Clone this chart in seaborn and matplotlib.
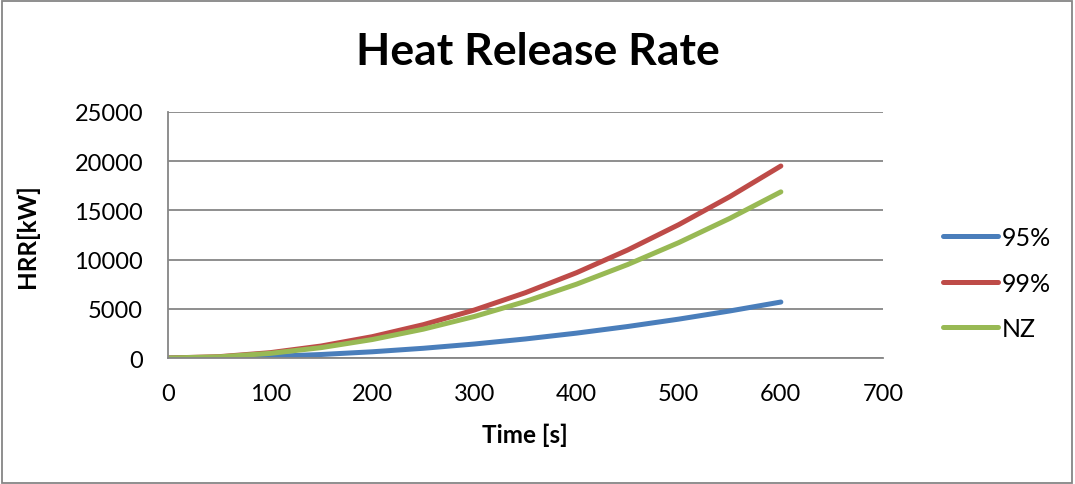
import matplotlib
matplotlib.use("Agg")
import matplotlib.pyplot as plt
import seaborn as sns
import pandas as pd
from matplotlib.patches import Rectangle

time_s = [0, 50, 100, 150, 200, 250, 300, 350, 400, 450, 500, 550, 600]
hrr_95 = [0, 40, 158, 356, 632, 988, 1422, 1936, 2528, 3200, 3950, 4780, 5688]
hrr_99 = [0, 136, 542, 1220, 2168, 3388, 4878, 6640, 8672, 10976, 13550, 16396, 19512]
hrr_nz = [0, 117, 469, 1055, 1876, 2931, 4221, 5745, 7504, 9497, 11725, 14187, 16884]
series_names = ["95%", "99%", "NZ"]
x_ticks = [0, 100, 200, 300, 400, 500, 600, 700]
y_ticks = [0, 5000, 10000, 15000, 20000, 25000]

df = pd.DataFrame({
    "Time": time_s * 3,
    "HRR": hrr_95 + hrr_99 + hrr_nz,
    "Series": [series_names[0]] * len(time_s) + [series_names[1]] * len(time_s) + [series_names[2]] * len(time_s),
})

sns.set_theme(style="white")
plt.rcParams['font.family'] = ['Lato', 'DejaVu Sans']
plt.rcParams['text.color'] = 'black'

fig = plt.figure(figsize=(10.75, 4.85), dpi=100)
ax = fig.add_axes([168/1075, 1 - 359/485, (883-168)/1075, (359-113)/485])

palette = {"95%": "#4A7EBB", "99%": "#BE4B48", "NZ": "#98B954"}
sns.lineplot(data=df, x="Time", y="HRR", hue="Series", palette=palette,
             linewidth=3.6, ax=ax, legend=True)
for ln in ax.get_lines():
    ln.set_solid_capstyle("round")

ax.set_xlim(0, 700)
ax.set_ylim(0, 25000)
ax.set_xticks(x_ticks)
ax.set_yticks(y_ticks)
ax.tick_params(axis="both", labelsize=17, length=0, colors="black")
ax.tick_params(axis="x", pad=18)
ax.tick_params(axis="y", pad=18)
ax.yaxis.grid(True, color="#868686", linewidth=1.3)
ax.xaxis.grid(False)
for s in ["top", "right"]:
    ax.spines[s].set_visible(False)
for s in ["left", "bottom"]:
    ax.spines[s].set_color("#868686")
    ax.spines[s].set_linewidth(1.3)

ax.set_xlabel("Time [s]", fontsize=17.5, fontweight="bold", color="black")
ax.set_ylabel("HRR[kW]", fontsize=17.5, fontweight="bold", color="black")
ax.xaxis.set_label_coords((525-168)/715, (359-435)/246)
ax.yaxis.set_label_coords((27-168)/715, 0.5)
ax.xaxis.label.set_va("center")
ax.yaxis.label.set_va("center")

fig.text(538/1075, 1 - 52/485, "Heat Release Rate", fontsize=32, fontweight="bold",
         ha="center", va="center", color="black")

leg = ax.legend(loc="center left", bbox_to_anchor=((943-168)/715, (359-284)/246),
                frameon=False, fontsize=18, handlelength=2.2, labelspacing=0.9,
                handletextpad=0.15, borderpad=0, borderaxespad=0)
for h in leg.get_lines():
    h.set_linewidth(3.6)
    h.set_solid_capstyle("round")
for t in leg.get_texts():
    t.set_color("black")

fig.patches.append(Rectangle((0.002, 0.003), 0.995, 0.993, transform=fig.transFigure,
                             fill=False, edgecolor="#868686", linewidth=1.3))

fig.savefig("out.png", dpi=100)
